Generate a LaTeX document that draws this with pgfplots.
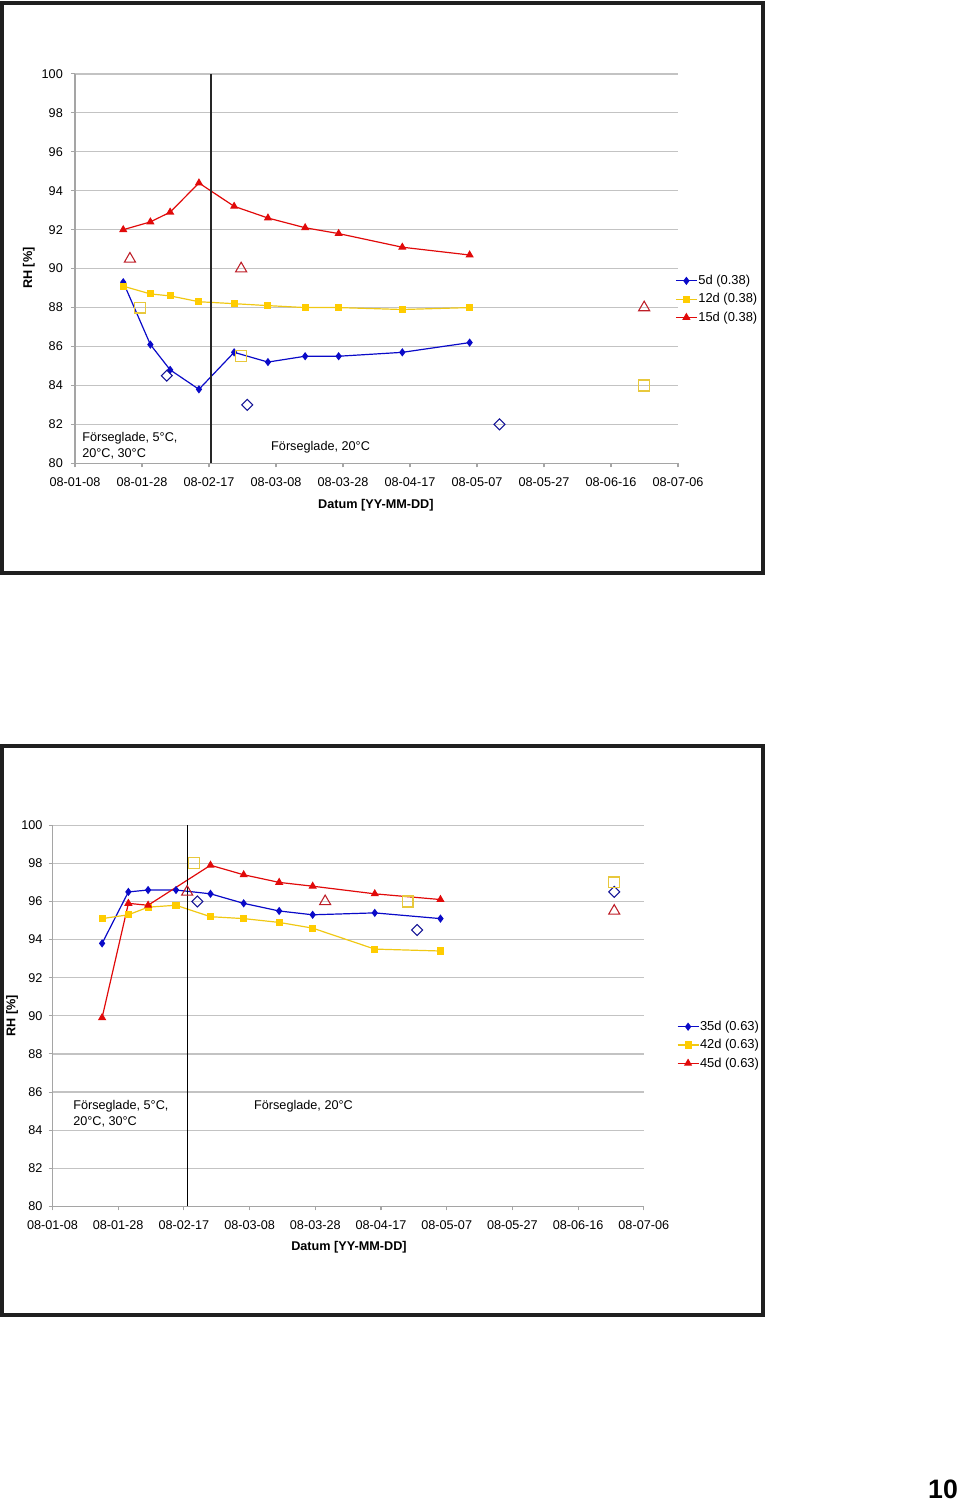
\documentclass[border=0pt]{standalone}
\usepackage{fontspec}
\setmainfont{Liberation Sans}
\usepackage{pgfplots}
\pgfplotsset{compat=1.18}

\definecolor{cblue}{RGB}{10,10,200}
\definecolor{cyel}{RGB}{255,204,0}
\definecolor{cyell}{RGB}{240,200,20}
\definecolor{cred}{RGB}{225,10,10}
\definecolor{oblue}{RGB}{20,20,150}
\definecolor{ored}{RGB}{190,30,40}
\definecolor{oyel}{RGB}{232,200,60}
\definecolor{gridc}{RGB}{195,195,195}
\definecolor{axc}{RGB}{165,165,165}

\newcommand{\fs}{\fontsize{9.5}{11}\selectfont}

\pgfplotsset{
 rhstyle/.style={
  scale only axis,
  xmin=0,xmax=180,ymin=80,ymax=100,
  xtick={0,20,...,180},
  xticklabels={08-01-08,08-01-28,08-02-17,08-03-08,08-03-28,08-04-17,08-05-07,08-05-27,08-06-16,08-07-06},
  ytick={80,82,...,100},
  axis x line=bottom, axis y line=left,
  axis line style={-,draw=axc,line width=0.9pt},
  ymajorgrids, grid style={draw=gridc,line width=0.9pt},
  tick align=outside, major tick length=3pt,
  tick style={draw=axc,line width=0.8pt},
  /pgf/number format/assume math mode=true,
  tick label style={font=\fs},
  xticklabel style={yshift=-4.5pt},
  label style={font=\bfseries\fs},
  clip=false,
  legend style={draw=none,fill=none,font=\fontsize{9.7}{11}\selectfont,inner sep=0pt,row sep=4pt,nodes={inner sep=0.6pt}},
  legend cell align=left,
  legend image code/.code={\draw[mark repeat=2,mark phase=2] plot coordinates {(0pt,0pt)(7.9pt,0pt)(15.8pt,0pt)};},
 },
 sblue/.style={color=cblue,line width=0.9pt,mark=diamond*,mark size=2.4pt,mark options={solid,fill=cblue}},
 syel/.style={color=cyell,line width=0.9pt,mark=square*,mark size=2.2pt,mark options={solid,fill=cyel,draw=cyel}},
 sred/.style={color=cred,line width=0.9pt,mark=triangle*,mark size=2.7pt,mark options={solid,fill=cred}},
 odia/.style={only marks,mark=square,mark size=2.9pt,mark options={rotate=45,draw=oblue,line width=0.8pt},forget plot},
 osq/.style={only marks,mark=square,mark size=4.1pt,mark options={draw=oyel,line width=0.9pt},forget plot},
 otri/.style={only marks,mark=triangle,mark size=4.8pt,mark options={draw=ored,line width=0.8pt},forget plot},
}

\begin{document}
\begin{tikzpicture}
\useasboundingbox (0,0) rectangle (720pt,-1125.75pt);
\begin{scope}[x=0.75pt,y=-0.75pt]
\draw[line width=2.3pt,black!88] (2,3) rectangle (763,573);
\draw[line width=2.3pt,black!88] (2,746) rectangle (763,1315);
\node[font=\bfseries\fontsize{20}{20}\selectfont] at (943,1489) {10};
\end{scope}

% ---------------- top chart ----------------
\begin{axis}[rhstyle,
  at={(56.25pt,-347.475pt)}, anchor=south west,
  width=452.25pt, height=292pt,
  yticklabel style={xshift=-2.6pt},
  xlabel={Datum [YY-MM-DD]},
  xlabel style={at={(axis description cs:0.499,-0.1078)},anchor=center},
  ylabel={RH [\%]},
  ylabel style={at={(axis description cs:-0.0765,0.501)},anchor=center,rotate=0},
  legend style={at={(axis description cs:0.995,0.4216)},anchor=west},
]
\addplot[sblue] coordinates {(14.4,89.3)(22.5,86.1)(28.4,84.8)(37.0,83.8)(47.5,85.7)(57.6,85.2)(68.7,85.5)(78.7,85.5)(97.7,85.7)(117.8,86.2)};
\addlegendentry{5d (0.38)}
\addplot[syel] coordinates {(14.4,89.1)(22.5,88.7)(28.4,88.6)(37.0,88.3)(47.5,88.2)(57.6,88.1)(68.7,88.0)(78.7,88.0)(97.7,87.9)(117.8,88.0)};
\addlegendentry{12d (0.38)}
\addplot[sred] coordinates {(14.4,92.0)(22.5,92.4)(28.4,92.9)(37.0,94.4)(47.5,93.2)(57.6,92.6)(68.7,92.1)(78.7,91.8)(97.7,91.1)(117.8,90.7)};
\addlegendentry{15d (0.38)}
\addplot[odia] coordinates {(27.4,84.5)(51.4,83.0)(126.7,82.0)};
\addplot[osq] coordinates {(19.4,88.0)(49.6,85.5)(169.9,84.0)};
\addplot[otri] coordinates {(16.4,90.5)(49.6,90.0)(169.9,88.0)};
\addplot[black!85,line width=1.4pt,forget plot] coordinates {(40.5,80)(40.5,100)};
\node[anchor=west,align=left,inner sep=0pt,font=\fontsize{9.5}{12}\selectfont] at (axis cs:2.1,80.88) {Förseglade, 5°C,\\20°C, 30°C};
\node[anchor=west,inner sep=0pt,font=\fs] at (axis cs:58.5,80.85) {Förseglade, 20°C};
\end{axis}

% ---------------- bottom chart ----------------
\begin{axis}[rhstyle,
  at={(39.375pt,-904.8pt)}, anchor=south west,
  width=443.475pt, height=285.9pt,
  yticklabel style={xshift=-1pt},
  xlabel={Datum [YY-MM-DD]},
  xlabel style={at={(axis description cs:0.5014,-0.108)},anchor=center},
  ylabel={RH [\%]},
  ylabel style={at={(axis description cs:-0.0685,0.4995)},anchor=center,rotate=0},
  legend style={at={(axis description cs:1.0556,0.4234)},anchor=west},
]
\addplot[sblue] coordinates {(15.1,93.8)(23.1,96.5)(29.1,96.6)(37.6,96.6)(48.1,96.4)(58.2,95.9)(69.0,95.5)(79.2,95.3)(98.1,95.4)(118.1,95.1)};
\addlegendentry{35d (0.63)}
\addplot[syel] coordinates {(15.1,95.1)(23.1,95.3)(29.1,95.7)(37.6,95.8)(48.1,95.2)(58.2,95.1)(69.0,94.9)(79.2,94.6)(98.1,93.5)(118.1,93.4)};
\addlegendentry{42d (0.63)}
\addplot[sred] coordinates {(15.1,89.9)(23.1,95.9)(29.1,95.8)(48.1,97.9)(58.2,97.4)(69.0,97.0)(79.2,96.8)(98.1,96.4)(118.1,96.1)};
\addlegendentry{45d (0.63)}
\addplot[odia] coordinates {(44.1,96.0)(111.0,94.5)(171.0,96.5)};
\addplot[osq] coordinates {(43.0,98.0)(108.1,96.0)(171.0,97.0)};
\addplot[otri] coordinates {(41.0,96.5)(83.0,96.0)(171.0,95.5)};
\addplot[black,line width=0.9pt,forget plot] coordinates {(41.1,80)(41.1,100)};
\node[anchor=west,align=left,inner sep=0pt,font=\fontsize{9.5}{12}\selectfont] at (axis cs:6.24,84.87) {Förseglade, 5°C,\\20°C, 30°C};
\node[anchor=west,inner sep=0pt,font=\fs] at (axis cs:61.3,85.26) {Förseglade, 20°C};
\end{axis}
\end{tikzpicture}
\end{document}
